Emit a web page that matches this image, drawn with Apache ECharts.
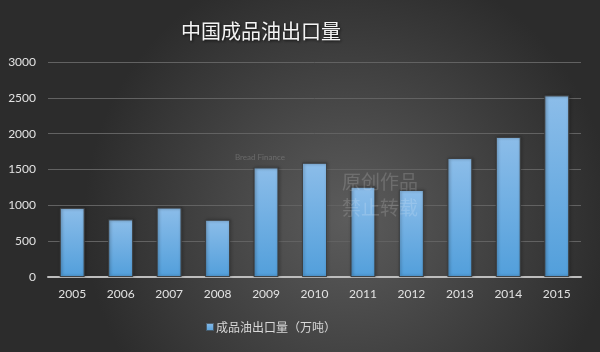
<!DOCTYPE html>
<html>
<head>
<meta charset="utf-8">
<script src="https://cdn.jsdelivr.net/npm/echarts@6/dist/echarts.min.js"></script>
<style>
  html, body { margin: 0; padding: 0; }
  #chart { width: 600px; height: 352px; }
</style>
</head>
<body>
<div id="chart"></div>
<script>
// 中国成品油出口量（万吨）
const years = ['2005', '2006', '2007', '2008', '2009', '2010', '2011', '2012', '2013', '2014', '2015']
const exportVolume = [965, 805, 970, 800, 1530, 1595, 1260, 1215, 1660, 1955, 2535]
const seriesName = '成品油出口量（万吨）'
const titleText = '中国成品油出口量'

const chart = echarts.init(document.getElementById('chart'))
chart.setOption({
  backgroundColor: {
    type: 'radial', x: 0.58, y: 0.62, r: 0.75,
    colorStops: [
      { offset: 0, color: '#5c5c5c' },
      { offset: 1, color: '#2c2c2c' }
    ]
  },
  textStyle: { fontFamily: 'Lato, "Noto Sans CJK SC", sans-serif' },
  title: {
    text: titleText,
    left: 176,
    top: 16,
    textStyle: {
      color: '#f4f4f4',
      fontSize: 20,
      fontWeight: 'normal',
      fontFamily: '"Noto Sans CJK SC", sans-serif',
      textShadowColor: 'rgba(0,0,0,0.8)',
      textShadowBlur: 3,
      textShadowOffsetX: 1,
      textShadowOffsetY: 1
    }
  },
  legend: {
    data: [seriesName],
    left: 200,
    top: 316,
    icon: 'rect',
    itemWidth: 8,
    itemHeight: 8,
    itemGap: 4,
    textStyle: { color: '#d8d8d8', fontSize: 12, fontFamily: '"Noto Sans CJK SC", sans-serif', padding: [0, 0, 0, -3] }
  },
  // watermark text, drawn above the bars
  graphic: [
    { type: 'text', z: 100, left: 235, top: 153, style: { text: 'Bread Finance', fill: 'rgba(255,255,255,0.18)', font: '8px Lato' } },
    { type: 'text', z: 100, left: 342, top: 172, style: { text: '原创作品', fill: 'rgba(255,255,255,0.16)', font: '19px "Noto Sans CJK SC"' } },
    { type: 'text', z: 100, left: 342, top: 198, style: { text: '禁止转载', fill: 'rgba(255,255,255,0.16)', font: '19px "Noto Sans CJK SC"' } }
  ],
  grid: {
    left: 48,
    right: 19,
    top: 62,
    bottom: 75
  },
  xAxis: {
    type: 'category',
    data: years,
    axisTick: { show: false },
    axisLine: { lineStyle: { color: '#bdbdbd', width: 2 } },
    axisLabel: { color: '#e2e2e2', fontSize: 12, margin: 11 }
  },
  yAxis: {
    type: 'value',
    min: 0,
    max: 3000,
    interval: 500,
    axisLine: { show: false },
    axisTick: { show: false },
    axisLabel: { color: '#e2e2e2', fontSize: 12, margin: 12, formatter: v => String(v) },
    splitLine: { lineStyle: { color: '#626262', width: 1 } }
  },
  series: [
    {
      name: seriesName,
      type: 'bar',
      barWidth: 25,
      data: exportVolume,
      itemStyle: {
        color: new echarts.graphic.LinearGradient(0, 0, 0, 1, [
          { offset: 0, color: '#8cbde9' },
          { offset: 1, color: '#529fdb' }
        ]),
        borderColor: 'rgba(60,60,60,0.7)',
        borderWidth: 1,
        shadowColor: 'rgba(0,0,0,0.55)',
        shadowBlur: 3,
        shadowOffsetX: 1,
        shadowOffsetY: 0
      }
    }
  ]
})
</script>
</body>
</html>
